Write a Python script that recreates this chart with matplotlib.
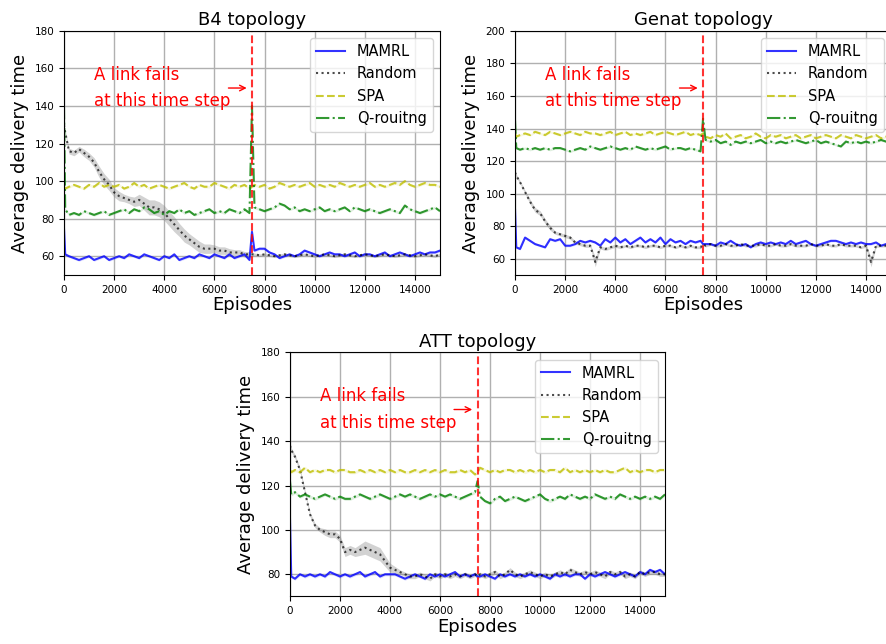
import numpy as np
import matplotlib
matplotlib.use("Agg")
import matplotlib.pyplot as plt

# episode grid: 0, 50, 200..7400 every 200, 7500 (link failure), 7600..15000 every 200
episodes = np.array([0, 50] + list(range(200, 7401, 200)) + [7500] + list(range(7600, 15001, 200)))

labels = ["MAMRL", "Random", "SPA", "Q-rouitng"]
fail_at = 7500

# ---------------- B4 ----------------
b4_mamrl = [75, 61,
            60, 59, 58, 59, 60, 58, 59, 60, 58, 59,
            60, 59, 61, 60, 59, 61, 60, 59, 58, 60,
            59, 61, 58, 59, 60, 59, 61, 60, 59, 61,
            60, 59, 61, 59, 60, 61, 58,
            73,
            63, 64, 64, 62, 61, 59, 60, 61, 60, 61,
            63, 62, 61, 60, 61, 62, 61, 61, 60, 61,
            62, 60, 61, 61, 60, 61, 62, 60, 61, 62,
            61, 60, 61, 62, 61, 62, 62, 63]
b4_random = [130, 126,
             116, 115, 117, 115, 113, 110, 105, 101, 98, 94,
             92, 91, 90, 89, 90, 88, 86, 86, 85, 83,
             80, 77, 74, 71, 69, 67, 65, 64, 64, 64,
             63, 63, 62, 62, 62, 61, 61,
             61,
             61, 60.5, 61, 60.5, 60, 60.5, 61, 60.5, 60, 60.5,
             61, 60.5, 60, 60.5, 61, 60.5, 60, 60.5, 61, 60.5,
             60, 60.5, 61, 60.5, 60, 60.5, 61, 60.5, 60, 60.5,
             61, 60.5, 60, 60.5, 61, 60.5, 60, 61]
b4_random_band = [1, 1,
                  1.5, 1.5, 1.5, 2, 2, 2.5, 3, 3, 3, 2.5,
                  2.5, 2, 2, 2.5, 3, 3.5, 4, 4, 4, 4,
                  4, 4, 3.5, 3.5, 3, 3, 3, 2.5, 2.5, 2,
                  2, 2, 2, 1.5, 1.5, 1.5, 1.5,
                  1] + [0.7] * 38
b4_spa = [97, 96,
          97, 98, 97, 96, 98, 97, 99, 97, 98, 97,
          98, 96, 97, 99, 97, 98, 96, 97, 98, 97,
          96, 97, 98, 99, 97, 96, 98, 97, 97, 99,
          98, 97, 96, 98, 97, 98, 96,
          97,
          98, 97, 98, 96, 97, 99, 98, 97, 98, 97,
          98, 99, 97, 98, 97, 98, 97, 99, 98, 97,
          98, 97, 98, 99, 97, 98, 97, 98, 99, 98,
          100, 98, 97, 98, 99, 98, 98, 97]
b4_q = [140, 85,
        82, 83, 82, 84, 83, 82, 83, 84, 82, 83,
        84, 85, 83, 85, 84, 86, 85, 83, 84, 82,
        84, 83, 85, 83, 84, 82, 83, 84, 85, 83,
        84, 83, 85, 84, 83, 85, 83,
        140,
        86, 85, 84, 85, 86, 88, 87, 85, 86, 84,
        85, 84, 85, 86, 84, 85, 84, 85, 86, 84,
        86, 85, 84, 85, 84, 83, 84, 85, 84, 83,
        87, 85, 84, 83, 84, 85, 86, 84]

# ---------------- Genat ----------------
genat_mamrl = [90, 67,
               66, 73, 71, 69, 68, 67, 72, 71, 72, 68,
               68, 69, 71, 70, 71, 70, 68, 72, 70, 73,
               70, 72, 69, 71, 73, 70, 72, 70, 73, 69,
               72, 70, 71, 69, 71, 70, 71,
               69,
               69, 69, 68, 70, 69, 71, 69, 68, 69, 67,
               69, 70, 69, 70, 69, 70, 69, 71, 69, 70,
               71, 69, 68, 69, 70, 71, 71, 70, 69, 70,
               69, 70, 69, 69, 70, 68, 69, 69]
genat_random = [113, 111,
                107, 101, 95, 90, 88, 83, 79, 76, 75, 74,
                73, 70, 69, 68, 68, 58, 67, 66, 67, 68,
                67, 68, 67, 68, 68, 67, 68, 68, 67, 68,
                68, 67, 68, 67, 68, 67, 67,
                69,
                68, 69, 68, 68, 69, 68, 68, 69, 68, 68,
                68, 69, 68, 68, 69, 68, 68, 69, 68, 68,
                68, 69, 68, 68, 69, 68, 68, 69, 68, 68,
                68, 67, 68, 58, 68, 68, 68, 68]
genat_random_band = [1, 1,
                     1, 1, 1.5, 1.5, 1.5, 1.5, 1.5, 1, 1, 1,
                     1, 1, 1, 1, 1, 3, 1, 1, 1, 1,
                     0.8, 0.8, 0.8, 0.8, 0.8, 0.8, 0.8, 0.8, 0.8, 0.8,
                     0.8, 0.8, 0.8, 0.8, 0.8, 0.8, 0.8,
                     0.8,
                     0.8, 0.8, 0.8, 0.8, 0.8, 0.8, 0.8, 0.8, 0.8, 0.8,
                     0.8, 0.8, 0.8, 0.8, 0.8, 0.8, 0.8, 0.8, 0.8, 0.8,
                     0.8, 0.8, 0.8, 0.8, 0.8, 0.8, 0.8, 0.8, 0.8, 0.8,
                     0.8, 0.8, 1, 3, 1, 0.8, 0.8, 0.8]
genat_spa = [137, 135,
             136, 137, 136, 138, 137, 136, 138, 137, 136, 137,
             138, 137, 136, 138, 137, 137, 136, 137, 138, 136,
             137, 138, 136, 137, 136, 137, 138, 136, 137, 138,
             137, 136, 137, 138, 136, 137, 136,
             137,
             135, 134, 136, 135, 137, 134, 135, 136, 134, 135,
             137, 135, 134, 136, 135, 136, 134, 135, 136, 134,
             135, 136, 134, 135, 136, 135, 134, 136, 135, 134,
             136, 135, 134, 135, 136, 134, 135, 134]
genat_q = [145, 128,
           127, 128, 127, 128, 127, 128, 127, 128, 128, 127,
           126, 127, 128, 127, 129, 128, 127, 128, 129, 128,
           127, 128, 127, 129, 128, 127, 128, 127, 128, 129,
           127, 128, 128, 127, 128, 127, 126,
           146,
           133, 132, 133, 131, 132, 130, 132, 131, 132, 131,
           132, 133, 131, 132, 131, 132, 131, 132, 133, 132,
           131, 132, 133, 131, 132, 131, 130, 129, 132, 131,
           132, 131, 132, 131, 132, 133, 132, 131]

# ---------------- ATT ----------------
att_mamrl = [105, 79,
             78, 80, 79, 80, 79, 80, 79, 81, 80, 79,
             80, 79, 80, 81, 79, 80, 81, 79, 80, 80,
             80, 79, 78, 79, 80, 79, 78, 80, 79, 80,
             79, 80, 81, 79, 80, 79, 80,
             79,
             79, 80, 79, 78, 80, 79, 80, 79, 80, 79,
             80, 79, 80, 79, 78, 80, 79, 80, 79, 80,
             80, 78, 80, 79, 80, 81, 80, 79, 80, 81,
             80, 79, 81, 80, 82, 81, 82, 80]
att_random = [138, 136,
              133, 127, 117, 107, 102, 100, 99, 98, 98, 96,
              90, 91, 90, 91, 92, 91, 90, 89, 86, 83,
              82, 81, 80, 79, 79, 80, 79, 78, 80, 79,
              80, 79, 80, 79, 80, 79, 80,
              79,
              80, 79, 80, 81, 79, 80, 82, 80, 79, 80,
              81, 80, 79, 80, 79, 80, 81, 80, 82, 81,
              80, 81, 80, 81, 80, 79, 81, 80, 81, 79,
              80, 79, 81, 80, 81, 81, 80, 80]
att_random_band = [1, 1,
                   1, 1, 1, 1, 1, 1, 1.5, 1.5, 1.5, 1.5,
                   2, 2, 2, 2.5, 3, 3, 3, 3, 2.5, 2,
                   1.5, 1, 1, 1, 1, 1, 1, 1, 1, 1,
                   1, 1, 1, 1, 1, 1, 1,
                   1] + [1] * 38
att_spa = [127, 126,
           127, 126, 128, 126, 127, 126, 127, 127, 126, 127,
           127, 126, 126, 127, 126, 127, 126, 127, 126, 127,
           126, 127, 126, 126, 127, 126, 127, 126, 127, 126,
           127, 126, 126, 127, 126, 127, 125,
           126,
           128, 127, 126, 127, 126, 127, 127, 126, 127, 126,
           127, 126, 127, 126, 127, 127, 126, 128, 126, 127,
           126, 127, 126, 127, 126, 127, 126, 126, 127, 128,
           126, 127, 126, 127, 127, 126, 127, 127]
att_q = [122, 116,
         117, 115, 116, 115, 114, 115, 116, 115, 114, 115,
         114, 114, 115, 116, 115, 114, 115, 116, 115, 114,
         115, 116, 115, 116, 115, 114, 115, 116, 115, 116,
         115, 116, 115, 114, 115, 116, 117,
         122,
         115, 113, 112, 114, 115, 113, 114, 115, 114, 113,
         114, 115, 116, 114, 113, 114, 115, 114, 116, 115,
         114, 115, 114, 116, 115, 114, 115, 114, 116, 115,
         114, 115, 114, 115, 114, 115, 114, 116]

panels = [
    ("B4 topology", [0.0722, 0.573, 0.4244, 0.379], (50, 180),
     b4_mamrl, b4_random, b4_random_band, b4_spa, b4_q),
    ("Genat topology", [0.5813, 0.573, 0.4244, 0.379], (50, 200),
     genat_mamrl, genat_random, genat_random_band, genat_spa, genat_q),
    ("ATT topology", [0.3273, 0.0738, 0.4233, 0.379], (70, 180),
     att_mamrl, att_random, att_random_band, att_spa, att_q),
]

fig = plt.figure(figsize=(8.86, 6.44), dpi=100)

for title, rect, ylim, mamrl, rnd, rnd_band, spa, q in panels:
    ax = fig.add_axes(rect)
    ax.grid(True, color="#b0b0b0", linewidth=1)
    ax.set_axisbelow(True)

    mamrl = np.array(mamrl, dtype=float)
    rnd = np.array(rnd, dtype=float)
    rnd_band = np.array(rnd_band, dtype=float)
    spa = np.array(spa, dtype=float)
    q = np.array(q, dtype=float)

    ax.fill_between(episodes, mamrl - 0.7, mamrl + 0.7, color="b", alpha=0.12, lw=0)
    ax.fill_between(episodes, rnd - rnd_band, rnd + rnd_band, color="gray", alpha=0.35, lw=0)
    ax.fill_between(episodes, spa - 0.7, spa + 0.7, color="y", alpha=0.12, lw=0)
    ax.fill_between(episodes, q - 0.7, q + 0.7, color="g", alpha=0.12, lw=0)

    ax.plot(episodes, mamrl, color="b", ls="-", lw=1.5, alpha=0.8, label=labels[0])
    ax.plot(episodes, rnd, color="k", ls=":", lw=1.5, alpha=0.7, label=labels[1])
    ax.plot(episodes, spa, color="y", ls="--", lw=1.5, alpha=0.8, label=labels[2])
    ax.plot(episodes, q, color="g", ls="-.", lw=1.5, alpha=0.8, label=labels[3])

    ax.axvline(fail_at, color="r", ls="--", lw=1.5, alpha=0.8)
    ax.text(1200, 0.766, "A link fails\nat this time step", color="r", fontsize=12,
            va="center", ha="left", linespacing=1.6, transform=ax.get_xaxis_transform())
    ax.annotate("", xy=(7400, 0.766), xytext=(6450, 0.766),
                xycoords=ax.get_xaxis_transform(),
                arrowprops=dict(arrowstyle="->", color="r", lw=1))

    ax.set_xlim(0, 15000)
    ax.set_ylim(*ylim)
    ax.set_title(title, fontsize=13, pad=4)
    ax.set_xlabel("Episodes", fontsize=13, labelpad=1)
    ax.set_ylabel("Average delivery time", fontsize=13)
    ax.tick_params(labelsize=7.5)
    ax.legend(loc="upper right", fontsize=10.5)

fig.savefig("out.png", dpi=100)
